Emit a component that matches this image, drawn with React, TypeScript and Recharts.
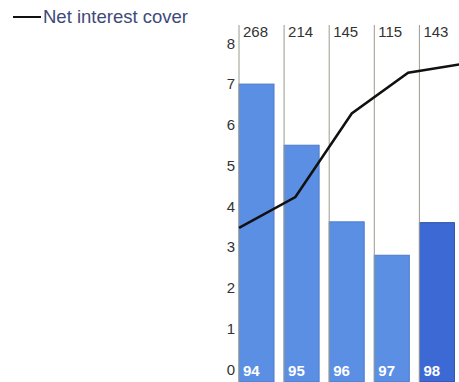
import React from 'react';
import {
  ComposedChart, Bar, Line, XAxis, YAxis, ReferenceLine, Legend, Cell,
} from 'recharts';

const years = ['94', '95', '96', '97', '98'];
const barValues = [7.0, 5.5, 3.62, 2.8, 3.6];
const coverValues = [3.47, 4.23, 6.28, 7.28, 7.5];
const topLabels = ['268', '214', '145', '115', '143'];
const yTicks = [0, 1, 2, 3, 4, 5, 6, 7, 8];

const FLOOR = -0.31;

const data = years.map((year, i) => ({
  idx: i,
  year,
  bar: barValues[i],
  cover: coverValues[i],
}));

const font = 'Liberation Sans, Arial, sans-serif';

// bars sit at the left of each column, not centred
const LeftBar = (props: any) => {
  const { x, y, width, height, fill, stroke } = props;
  return <rect x={x - 5} y={y} width={width} height={height} fill={fill} stroke={stroke} strokeWidth={1} />;
};

const YearLabel = (props: any) => {
  const { x, y, height, value } = props;
  return (
    <text x={x - 1} y={y + height - 6} fill="#ffffff" fontSize={15} fontWeight="bold" fontFamily={font}>
      {years[value] ?? value}
    </text>
  );
};

const TopLabel = (props: any) => {
  const { viewBox, text } = props;
  if (!viewBox) return null;
  return (
    <text x={viewBox.x + 4} y={viewBox.y + 12} fill="#333" fontSize={15} fontFamily={font}>
      {text}
    </text>
  );
};

// zero-height box so the legend does not push the plot down
const LegendContent = () => (
  <div style={{ height: 0, overflow: 'visible' }}>
    <div style={{ display: 'flex', alignItems: 'center', fontFamily: font, fontSize: 18.5, color: '#3e4a78', whiteSpace: 'nowrap' }}>
      <span style={{ display: 'inline-block', width: 28, height: 2, background: '#111', marginRight: 2 }} />
      Net interest cover
    </div>
  </div>
);

export default function App() {
  return (
    <div style={{ position: 'absolute', left: 0, top: 0, width: 459, height: 382, overflow: 'hidden', background: '#fff' }}>
      <ComposedChart
        width={466}
        height={382}
        data={data}
        margin={{ top: 25, right: 1.5, bottom: 0, left: 199 }}
        barCategoryGap={0}
      >
        <XAxis dataKey="year" xAxisId="bars" hide />
        <XAxis dataKey="idx" xAxisId="line" type="number" domain={[0, 4]} hide />
        <YAxis
          domain={[FLOOR, 8.45]}
          ticks={yTicks}
          width={40}
          axisLine={false}
          tickLine={false}
          tickSize={0}
          tickMargin={4}
          allowDataOverflow
          tick={{ fill: '#333', fontSize: 15, fontFamily: font }}
        />
        <Legend
          verticalAlign="top"
          align="left"
          content={<LegendContent />}
          wrapperStyle={{ position: 'absolute', left: 13, top: 6, width: 210, height: 0 }}
        />
        {years.map((yr, i) => (
          <ReferenceLine
            key={yr}
            x={yr}
            xAxisId="bars"
            position="start"
            stroke="#9a9a8e"
            strokeWidth={1}
            label={<TopLabel text={topLabels[i]} />}
          />
        ))}
        <Bar
          xAxisId="bars"
          dataKey={(d: any) => [FLOOR, d.bar]}
          barSize={35}
          shape={<LeftBar />}
          legendType="none"
          isAnimationActive={false}
          label={(p: any) => <YearLabel {...p} value={p.index} />}
        >
          {years.map((yr, i) => (
            <Cell key={yr} fill={i === 4 ? '#3d69d4' : '#5b8fe4'} stroke={i === 4 ? '#2c4ea6' : '#4a7acc'} />
          ))}
        </Bar>
        <Line
          xAxisId="line"
          dataKey="cover"
          name="Net interest cover"
          stroke="#111"
          strokeWidth={2.5}
          dot={false}
          isAnimationActive={false}
        />
      </ComposedChart>
    </div>
  );
}
